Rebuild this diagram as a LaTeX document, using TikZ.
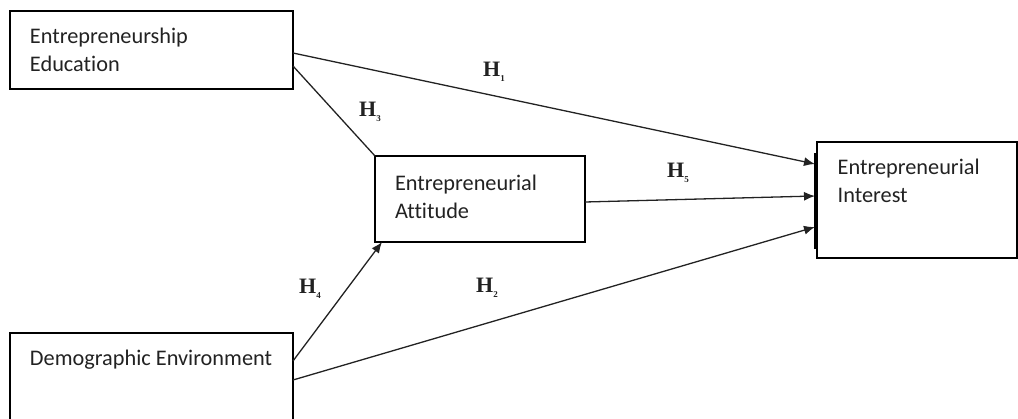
\documentclass[tikz,border=0pt]{standalone}
\usepackage{fontspec}
\setmainfont{Carlito}[Ligatures=NoCommon]
\newfontfamily\hfont{Liberation Serif}
\usetikzlibrary{calc,arrows.meta}
\definecolor{ink}{HTML}{222222}
\tikzset{
  box/.style={draw, line width=1.1pt, outer sep=0pt, inner xsep=20pt, anchor=north west, text=ink, font=\fontsize{22.3}{28}\selectfont},
  conn/.style={line width=1.3pt, draw=ink},
  arr/.style={conn, -{Latex[length=11pt,width=9pt]}},
  hyp/.style={font=\hfont\bfseries\fontsize{22}{22}\selectfont, inner sep=0pt, text=ink},
}
\newcommand{\hlab}[1]{H\raisebox{-5pt}{\fontsize{9}{9}\selectfont #1}}
\begin{document}
\begin{tikzpicture}[x=1pt,y=-1pt]
\useasboundingbox (0,0) rectangle (1018,418);
% boxes
\node[box, inner ysep=13pt] (ee) at (10,11) {\parbox[c][52pt][t]{243pt}{\strut Entrepreneurship\\Education}};
\node[box, inner ysep=14.4pt] (ea) at (375,156) {\parbox[c][57.2pt][t]{170pt}{\strut Entrepreneurial\\Attitude}};
\node[box, inner ysep=12.7pt, inner xsep=20.7pt] (ei) at (817,142) {\parbox[c][90.6pt][t]{158.6pt}{\strut Entrepreneurial\\Interest}};
\node[box, inner ysep=12.4pt] (de) at (10,333) {\parbox[c][75.2pt][t]{243pt}{\strut Demographic Environment}};
% bar at left of interest box
\coordinate (bt) at ($(ei.north west)+(-2,11)$);
\coordinate (bb) at ($(ei.south west)+(-2,-9)$);
\draw[line width=1.1pt] (bt) -- (bb);
% connectors
\draw[arr] ($(ee.north east)+(0,42)$) -- ($(ei.north west)+(-2,22)$);
\draw[conn] ($(ee.north east)+(0,55)$) -- (ea.north west);
\draw[arr] ($(ea.north east)+(0,46)$) -- ($(ei.north west)+(-2,54)$);
\draw[arr] ($(de.north east)+(0,28)$) -- ($(ea.south west)+(7,0)$);
\draw[arr] ($(de.north east)+(0,47)$) -- ($(ei.north west)+(-2,85)$);
% labels
\node[hyp] (h1) at (494,72) {\hlab{1}};
\node[hyp] (h3) at (370,112) {\hlab{3}};
\node[hyp] (h5) at (678,173) {\hlab{5}};
\node[hyp] (h4) at (310,289) {\hlab{4}};
\node[hyp] (h2) at (487,288) {\hlab{2}};
\end{tikzpicture}
\end{document}
